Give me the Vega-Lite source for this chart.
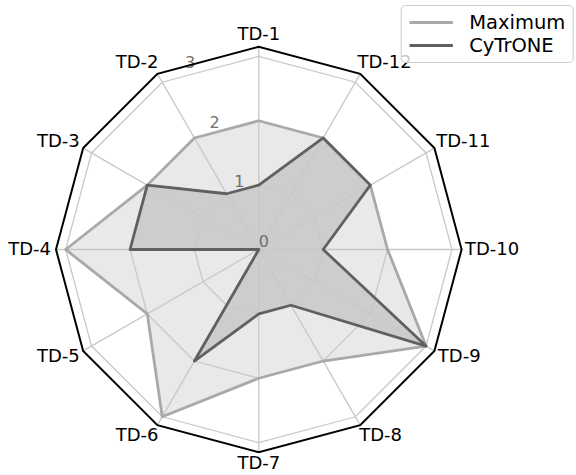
{
  "$schema": "https://vega.github.io/schema/vega-lite/v6.json",
  "autosize": "none",
  "width": 405.6,
  "height": 405.6,
  "padding": {"left": 56, "top": 46.7, "right": 114.4, "bottom": 22.7},
  "background": "white",
  "config": {
    "view": {"stroke": null},
    "font": "DejaVu Sans",
    "legend": {
      "padding": 7,
      "strokeColor": "#cccccc",
      "fillColor": "rgba(255,255,255,0.8)",
      "cornerRadius": 4,
      "labelFont": "DejaVu Sans",
      "labelFontSize": 19.5,
      "labelColor": "#000000",
      "symbolType": "M-2.5,0H2.5",
      "symbolSize": 300,
      "symbolStrokeWidth": 2.8,
      "symbolOffset": 13,
      "labelOffset": 27.5,
      "rowPadding": 3
    }
  },
  "datasets": {
    "spokes": [
      {"axis": "TD-1", "idx": 0}, {"axis": "TD-2", "idx": 1}, {"axis": "TD-3", "idx": 2},
      {"axis": "TD-4", "idx": 3}, {"axis": "TD-5", "idx": 4}, {"axis": "TD-6", "idx": 5},
      {"axis": "TD-7", "idx": 6}, {"axis": "TD-8", "idx": 7}, {"axis": "TD-9", "idx": 8},
      {"axis": "TD-10", "idx": 9}, {"axis": "TD-11", "idx": 10}, {"axis": "TD-12", "idx": 11}
    ],
    "rticks": [{"r": 0}, {"r": 1}, {"r": 2}, {"r": 3}],
    "scores": [
      {"series": "Maximum", "axis": "TD-1", "idx": 0, "value": 2},
      {"series": "Maximum", "axis": "TD-2", "idx": 1, "value": 2},
      {"series": "Maximum", "axis": "TD-3", "idx": 2, "value": 2},
      {"series": "Maximum", "axis": "TD-4", "idx": 3, "value": 3},
      {"series": "Maximum", "axis": "TD-5", "idx": 4, "value": 2},
      {"series": "Maximum", "axis": "TD-6", "idx": 5, "value": 3},
      {"series": "Maximum", "axis": "TD-7", "idx": 6, "value": 2},
      {"series": "Maximum", "axis": "TD-8", "idx": 7, "value": 2},
      {"series": "Maximum", "axis": "TD-9", "idx": 8, "value": 3},
      {"series": "Maximum", "axis": "TD-10", "idx": 9, "value": 2},
      {"series": "Maximum", "axis": "TD-11", "idx": 10, "value": 2},
      {"series": "Maximum", "axis": "TD-12", "idx": 11, "value": 2},
      {"series": "CyTrONE", "axis": "TD-1", "idx": 0, "value": 1},
      {"series": "CyTrONE", "axis": "TD-2", "idx": 1, "value": 1},
      {"series": "CyTrONE", "axis": "TD-3", "idx": 2, "value": 2},
      {"series": "CyTrONE", "axis": "TD-4", "idx": 3, "value": 2},
      {"series": "CyTrONE", "axis": "TD-5", "idx": 4, "value": 0},
      {"series": "CyTrONE", "axis": "TD-6", "idx": 5, "value": 2},
      {"series": "CyTrONE", "axis": "TD-7", "idx": 6, "value": 1},
      {"series": "CyTrONE", "axis": "TD-8", "idx": 7, "value": 1},
      {"series": "CyTrONE", "axis": "TD-9", "idx": 8, "value": 3},
      {"series": "CyTrONE", "axis": "TD-10", "idx": 9, "value": 1},
      {"series": "CyTrONE", "axis": "TD-11", "idx": 10, "value": 2},
      {"series": "CyTrONE", "axis": "TD-12", "idx": 11, "value": 2}
    ]
  },
  "layer": [
    {
      "data": {"name": "scores"},
      "transform": [
        {"filter": "datum.series === 'Maximum'"},
        {"calculate": "datum.idx * PI / 6", "as": "a"},
        {"calculate": "-sin(datum.a) * datum.value", "as": "px"},
        {"calculate": "cos(datum.a) * datum.value", "as": "py"}
      ],
      "mark": {"type": "line", "interpolate": "linear-closed", "fill": "#a9a9a9", "fillOpacity": 0.25, "strokeOpacity": 0},
      "encoding": {
        "x": {"field": "px", "type": "quantitative", "scale": {"domain": [-3.15, 3.15], "nice": false, "zero": false}, "axis": null},
        "y": {"field": "py", "type": "quantitative", "scale": {"domain": [-3.15, 3.15], "nice": false, "zero": false}, "axis": null},
        "order": {"field": "idx", "type": "quantitative"}
      }
    },
    {
      "data": {"name": "scores"},
      "transform": [
        {"filter": "datum.series === 'CyTrONE'"},
        {"calculate": "datum.idx * PI / 6", "as": "a"},
        {"calculate": "-sin(datum.a) * datum.value", "as": "px"},
        {"calculate": "cos(datum.a) * datum.value", "as": "py"}
      ],
      "mark": {"type": "line", "interpolate": "linear-closed", "fill": "#606060", "fillOpacity": 0.2, "strokeOpacity": 0},
      "encoding": {
        "x": {"field": "px", "type": "quantitative"},
        "y": {"field": "py", "type": "quantitative"},
        "order": {"field": "idx", "type": "quantitative"}
      }
    },
    {
      "data": {"name": "spokes"},
      "transform": [
        {"calculate": "1", "as": "g1"},
        {"calculate": "2", "as": "g2"},
        {"calculate": "3", "as": "g3"},
        {"fold": ["g1", "g2", "g3"], "as": ["ring", "r"]},
        {"calculate": "datum.idx * PI / 6", "as": "a"},
        {"calculate": "-sin(datum.a) * datum.r", "as": "px"},
        {"calculate": "cos(datum.a) * datum.r", "as": "py"}
      ],
      "mark": {"type": "line", "interpolate": "linear-closed", "stroke": "#c8c8c8", "strokeWidth": 1.3},
      "encoding": {
        "x": {"field": "px", "type": "quantitative"},
        "y": {"field": "py", "type": "quantitative"},
        "detail": {"field": "ring", "type": "nominal"},
        "order": {"field": "idx", "type": "quantitative"}
      }
    },
    {
      "data": {"name": "spokes"},
      "transform": [
        {"calculate": "datum.idx * PI / 6", "as": "a"},
        {"calculate": "-sin(datum.a) * 3.15", "as": "px"},
        {"calculate": "cos(datum.a) * 3.15", "as": "py"},
        {"calculate": "0", "as": "o"}
      ],
      "mark": {"type": "rule", "stroke": "#c8c8c8", "strokeWidth": 1.3},
      "encoding": {
        "x": {"field": "o", "type": "quantitative"},
        "y": {"field": "o", "type": "quantitative"},
        "x2": {"field": "px"},
        "y2": {"field": "py"}
      }
    },
    {
      "data": {"name": "rticks"},
      "transform": [
        {"calculate": "-sin(PI / 8) * datum.r", "as": "px"},
        {"calculate": "cos(PI / 8) * datum.r", "as": "py"}
      ],
      "mark": {"type": "text", "align": "left", "baseline": "alphabetic", "dy": -3, "fontSize": 16, "color": "#707070", "font": "DejaVu Sans"},
      "encoding": {
        "x": {"field": "px", "type": "quantitative"},
        "y": {"field": "py", "type": "quantitative"},
        "text": {"field": "r", "type": "quantitative", "format": "d"}
      }
    },
    {
      "data": {"name": "scores"},
      "transform": [
        {"calculate": "datum.idx * PI / 6", "as": "a"},
        {"calculate": "-sin(datum.a) * datum.value", "as": "px"},
        {"calculate": "cos(datum.a) * datum.value", "as": "py"}
      ],
      "mark": {"type": "line", "interpolate": "linear-closed", "strokeWidth": 2.8, "strokeJoin": "round"},
      "encoding": {
        "x": {"field": "px", "type": "quantitative"},
        "y": {"field": "py", "type": "quantitative"},
        "color": {
          "field": "series",
          "type": "nominal",
          "scale": {"domain": ["Maximum", "CyTrONE"], "range": ["#a9a9a9", "#606060"]},
          "legend": {"title": null, "orient": "none", "legendX": 344.7, "legendY": -41.7}
        },
        "order": {"field": "idx", "type": "quantitative"}
      }
    },
    {
      "data": {"name": "spokes"},
      "transform": [
        {"calculate": "datum.idx * PI / 6", "as": "a"},
        {"calculate": "-sin(datum.a) * 3.15", "as": "px"},
        {"calculate": "cos(datum.a) * 3.15", "as": "py"}
      ],
      "mark": {"type": "line", "interpolate": "linear-closed", "stroke": "#000000", "strokeWidth": 2},
      "encoding": {
        "x": {"field": "px", "type": "quantitative"},
        "y": {"field": "py", "type": "quantitative"},
        "order": {"field": "idx", "type": "quantitative"}
      }
    },
    {
      "data": {"name": "spokes"},
      "transform": [
        {"calculate": "datum.idx * PI / 6", "as": "a"},
        {"calculate": "-sin(datum.a)", "as": "s"},
        {"calculate": "cos(datum.a)", "as": "c"},
        {"calculate": "length(datum.axis) > 4 ? 0.424 : 0.331", "as": "hw"},
        {"calculate": "datum.s * 3.339 + (datum.s > 0.01 ? 1 : datum.s < -0.01 ? -1 : 0) * 0.67 * datum.hw", "as": "px"},
        {"calculate": "datum.c * 3.339", "as": "py"}
      ],
      "mark": {"type": "text", "align": "center", "baseline": "middle", "fontSize": 18, "color": "#000000", "font": "DejaVu Sans"},
      "encoding": {
        "x": {"field": "px", "type": "quantitative"},
        "y": {"field": "py", "type": "quantitative"},
        "text": {"field": "axis", "type": "nominal"}
      }
    }
  ]
}
